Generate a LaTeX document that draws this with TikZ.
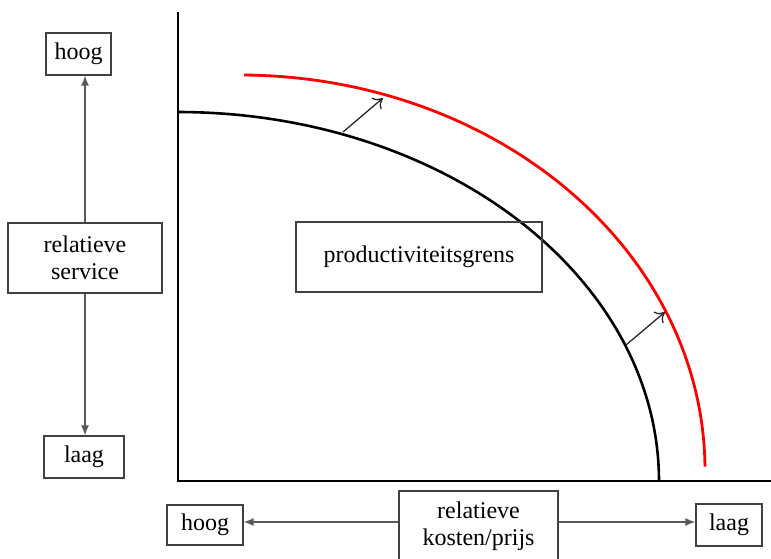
\documentclass[tikz,border=0pt]{standalone}
\usepackage{fontspec}
\setmainfont{Liberation Serif}
\usetikzlibrary{arrows.meta}

\begin{document}
\begin{tikzpicture}[x=1pt, y=-1pt,
    box/.style={draw=black!75, line width=1.3pt, align=center, inner sep=0pt,
      font=\fontsize{24}{27}\selectfont},
    pijl/.style={draw=black!65, line width=1.4pt, -{Latex[length=10pt,width=8pt]}},
    schuif/.style={draw=black!85, line width=1.3pt, -{To[length=9pt,width=15pt]}}]
        \useasboundingbox (0,0) rectangle (771,559);
        % assen
        \draw [line width=1.8pt] (178,12) -- (178,481) -- (771,481);
        % productiviteitsgrens oud en nieuw
        \draw [line width=2.6pt] plot [domain=90:0, samples=120] ({178+481*cos(\x)},{481-369*sin(\x)});
        \draw [red, line width=2.8pt] plot [domain=89.5:0.5, samples=120] ({240+465*cos(\x)},{470-395*sin(\x)});
        \coordinate (oud1) at (343,132);
        \coordinate (nieuw1) at (383,98);
        \coordinate (oud2) at (626,345);
        \coordinate (nieuw2) at (665,312);
        \draw [schuif] (oud1) -- (nieuw1);
        \draw [schuif] (oud2) -- (nieuw2);
        % vakken
        \node [box, minimum width=65pt, minimum height=42pt] (hoogS) at (78.5,54) {hoog};
        \node [box, minimum width=154pt, minimum height=70pt] (service) at (85,258) {relatieve\\service};
        \node [box, minimum width=80pt, minimum height=42pt] (laagS) at (84,457) {laag};
        \node [box, minimum width=246pt, minimum height=70pt] (grens) at (419,257) {productiviteitsgrens};
        \node [box, minimum width=76pt, minimum height=40pt] (hoogK) at (205,525) {hoog};
        \node [box, minimum width=159pt, minimum height=70pt] (kosten) at (478.5,526) {relatieve\\kosten/prijs};
        \node [box, minimum width=66pt, minimum height=42pt] (laagK) at (729,525) {laag};
        % pijlen
        \draw [pijl] (service.north) -- (service.north |- hoogS.south);
        \draw [pijl] (service.south) -- (service.south |- laagS.north);
        \draw [pijl] (kosten.west |- 0,522) -- (hoogK.east |- 0,522);
        \draw [pijl] (kosten.east |- 0,522) -- (laagK.west |- 0,522);
    \end{tikzpicture}
\end{document}
